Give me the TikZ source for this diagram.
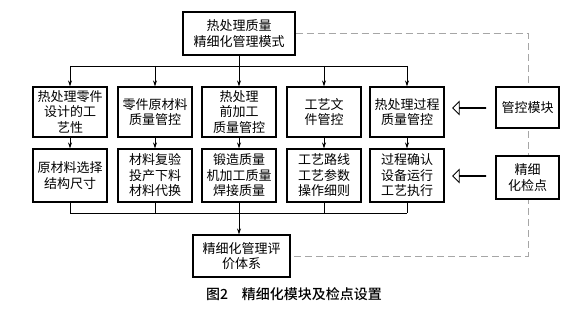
\documentclass[tikz,border=0pt]{standalone}
\usepackage{fontspec}
\newfontfamily\cjk{Noto Sans CJK SC}
\newfontfamily\cjkcap{Noto Sans CJK SC Medium}
\usetikzlibrary{arrows.meta,shapes.arrows,backgrounds}
\begin{document}
\begin{tikzpicture}[x=1pt,y=-1pt,
  box/.style={draw,line width=1.1pt,fill=white,inner sep=0pt,align=center,
    font=\cjk\fontsize{13}{15.5}\selectfont},
  rowbox/.style={box,minimum width=74pt},
  arr/.style={line width=0.7pt,-{Stealth[length=6pt,width=4pt]}},
  ln/.style={line width=0.7pt},
  dsh/.style={line width=0.9pt,gray!70,dash pattern=on 7pt off 4pt},
  hollow/.style={single arrow,draw,line width=0.8pt,fill=white,minimum height=33pt,
    minimum width=13pt,single arrow head extend=4pt,single arrow head indent=0pt,
    inner sep=0pt,shape border rotate=180}]
\useasboundingbox (0,0) rectangle (586,313);

\node[box,minimum width=112pt,minimum height=43pt] (top) at (239,33.5) {热处理质量\\精细化管理模式};

\node[rowbox,minimum height=50pt] (a1) at (70,112) {热处理零件\\设计的工\\艺性};
\node[rowbox,minimum height=50pt] (a2) at (155,112) {零件原材料\\质量管控};
\node[rowbox,minimum height=50pt] (a3) at (239,112) {热处理\\前加工\\质量管控};
\node[rowbox,minimum height=50pt] (a4) at (324,112) {工艺文\\件管控};
\node[rowbox,minimum height=50pt] (a5) at (407,112) {热处理过程\\质量管控};

\node[rowbox,minimum height=53pt] (b1) at (70,175.5) {原材料选择\\结构尺寸};
\node[rowbox,minimum height=53pt] (b2) at (155,175.5) {材料复验\\投产下料\\材料代换};
\node[rowbox,minimum height=53pt] (b3) at (239,175.5) {锻造质量\\机加工质量\\焊接质量};
\node[rowbox,minimum height=53pt] (b4) at (324,175.5) {工艺路线\\工艺参数\\操作细则};
\node[rowbox,minimum height=53pt] (b5) at (407,175.5) {过程确认\\设备运行\\工艺执行};

\node[box,minimum width=97pt,minimum height=42pt] (ev) at (241.5,256) {精细化管理评\\价体系};

\node[box,minimum width=63pt,minimum height=41pt] (gk) at (527.5,107.5) {管控模块};
\node[box,minimum width=63pt,minimum height=43pt] (jd) at (527.5,177.5) {精细\\化检点};

\node[hollow] (h1) at (469.5,108) {};
\node[hollow] (h2) at (469.5,176) {};

\coordinate (bus) at (0,66);
\coordinate (bus2) at (0,213);
\coordinate (rx) at (528,0);

\begin{scope}[on background layer]
\draw[dsh] (top.east) -- (top.east -| rx) -- (ev.east -| rx) -- (ev.east);
\end{scope}

\draw[ln] (a1.north |- bus) -- (a5.north |- bus);
\draw[arr] (top.south) -- (a3.north);
\foreach \n in {a1,a2,a4,a5}{\draw[arr] (\n.north |- bus) -- (\n.north);}
\foreach \i in {1,...,5}{\draw[arr] (a\i.south) -- (b\i.north);}
\foreach \n in {b1,b2,b4,b5}{\draw[ln] (\n.south) -- (\n.south |- bus2);}
\draw[ln] (b1.south |- bus2) -- (b5.south |- bus2);
\draw[arr] (b3.south) -- (b3.south |- ev.north);

\node[font=\cjkcap\fontsize{14}{16}\selectfont,anchor=center] (cap) at (294,294) {图2\hspace{1em}精细化模块及检点设置};
\end{tikzpicture}
\end{document}
